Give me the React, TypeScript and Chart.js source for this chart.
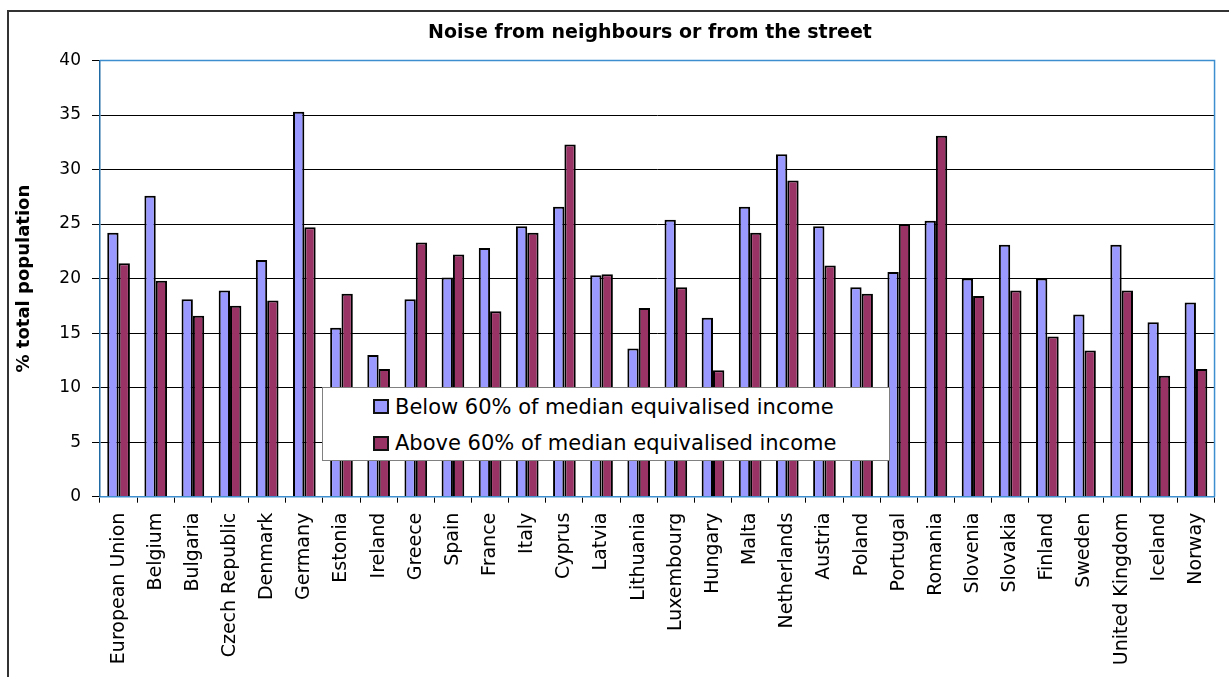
import React, { useEffect, useRef } from "react";
import { Chart, registerables } from "chart.js";

Chart.register(...registerables);

const chartTitle = "Noise from neighbours or from the street";
const yAxisTitle = "% total population";

const categories = [
  "European Union", "Belgium", "Bulgaria", "Czech Republic", "Denmark", "Germany",
  "Estonia", "Ireland", "Greece", "Spain", "France", "Italy", "Cyprus", "Latvia",
  "Lithuania", "Luxembourg", "Hungary", "Malta", "Netherlands", "Austria", "Poland",
  "Portugal", "Romania", "Slovenia", "Slovakia", "Finland", "Sweden",
  "United Kingdom", "Iceland", "Norway",
];

const seriesLabels = [
  "Below 60% of median equivalised income",
  "Above 60% of median equivalised income",
];

const belowValues = [
  24.2, 27.6, 18.1, 18.9, 21.7, 35.3, 15.5, 13.0, 18.1, 20.1, 22.8, 24.8, 26.6, 20.3,
  13.6, 25.4, 16.4, 26.6, 31.4, 24.8, 19.2, 20.6, 25.3, 20.0, 23.1, 20.0, 16.7, 23.1,
  16.0, 17.8,
];

const aboveValues = [
  21.4, 19.8, 16.6, 17.5, 18.0, 24.7, 18.6, 11.7, 23.3, 22.2, 17.0, 24.2, 32.3, 20.4,
  17.3, 19.2, 11.6, 24.2, 29.0, 21.2, 18.6, 25.0, 33.1, 18.4, 18.9, 14.7, 13.4, 18.9,
  11.1, 11.7,
];

const seriesColors = ["#9999FF", "#993366"];

const yMin = 0;
const yMax = 40;
const yStep = 5;

const FONT = "'DejaVu Sans', sans-serif";
const PLOT_BORDER = "#3d8ecf";

export default function App() {
  const canvasRef = useRef<HTMLCanvasElement | null>(null);

  useEffect(() => {
    if (!canvasRef.current) return;
    Chart.defaults.font.family = FONT;

    const titlePlugin = {
      id: "xlTitle",
      afterDraw(chart: any) {
        const ctx = chart.ctx;
        ctx.save();
        ctx.font = `bold 19px ${FONT}`;
        ctx.fillStyle = "#000";
        ctx.textAlign = "center";
        ctx.textBaseline = "alphabetic";
        ctx.fillText(chartTitle, 650, 38.3);
        ctx.restore();
      },
    };

    const plotBorderPlugin = {
      id: "plotBorder",
      beforeDatasetsDraw(chart: any) {
        const { left, top, right, bottom } = chart.chartArea;
        const ctx = chart.ctx;
        ctx.save();
        ctx.strokeStyle = PLOT_BORDER;
        ctx.lineWidth = 1.5;
        ctx.beginPath();
        ctx.moveTo(left, top);
        ctx.lineTo(right, top);
        ctx.lineTo(right, bottom);
        ctx.stroke();
        ctx.restore();
      },
    };

    const chart = new Chart(canvasRef.current, {
      type: "bar",
      data: {
        labels: categories,
        datasets: [
          {
            label: seriesLabels[0],
            data: belowValues,
            backgroundColor: seriesColors[0],
            borderColor: "#000",
            borderWidth: 2,
            categoryPercentage: 0.61,
            barPercentage: 1.0,
          },
          {
            label: seriesLabels[1],
            data: aboveValues,
            backgroundColor: seriesColors[1],
            borderColor: "#000",
            borderWidth: 2,
            categoryPercentage: 0.61,
            barPercentage: 1.0,
          },
        ],
      },
      options: {
        animation: false,
        responsive: false,
        maintainAspectRatio: false,
        layout: { padding: { top: 60.5, right: 14, bottom: 0, left: 0 } },
        plugins: {
          legend: { display: false },
          title: { display: false },
          tooltip: { enabled: false },
        },
        scales: {
          x: {
            grid: {
              display: true,
              drawOnChartArea: false,
              drawTicks: true,
              tickLength: 6,
              tickColor: "#000",
              offset: true,
            },
            border: { color: PLOT_BORDER, width: 1.5 },
            ticks: {
              autoSkip: false,
              maxRotation: 90,
              minRotation: 90,
              padding: 10,
              color: "#000",
              font: { size: 19, family: FONT },
            },
            afterFit: (s: any) => {
              s.height = 180.3;
            },
          },
          y: {
            min: yMin,
            max: yMax,
            ticks: {
              stepSize: yStep,
              padding: 11,
              color: "#000",
              font: { size: 17, family: FONT },
            },
            grid: {
              color: (c: any) =>
                c.tick && (c.tick.value === yMax || c.tick.value === yMin) ? PLOT_BORDER : "#000",
              lineWidth: 1,
              tickLength: 8,
              tickColor: "#000",
            },
            border: { color: "#1f6aa5", width: 1.5 },
            title: {
              display: true,
              text: yAxisTitle,
              color: "#000",
              font: { size: 18, weight: "bold", family: FONT },
              padding: { top: 14, bottom: 0 },
            },
            afterFit: (s: any) => {
              s.width = 100;
            },
          },
        },
      },
      plugins: [titlePlugin, plotBorderPlugin],
    } as any);

    return () => chart.destroy();
  }, []);

  const legendRowTops = [8.4, 45.1];
  const swatchTops = [11, 47.7];

  return (
    <div
      style={{
        position: "fixed",
        left: 0,
        top: 0,
        width: 1229,
        height: 677,
        overflow: "hidden",
        background: "#fff",
      }}
    >
      <div
        style={{
          position: "absolute",
          left: 7,
          top: 10,
          width: 1400,
          height: 900,
          border: "2px solid #333",
          boxSizing: "border-box",
        }}
      />
      <canvas
        ref={canvasRef}
        width={1229}
        height={677}
        style={{ position: "absolute", left: 0, top: 0, width: 1229, height: 677, display: "block" }}
      />
      <div
        style={{
          position: "absolute",
          left: 321.7,
          top: 387.3,
          width: 568,
          height: 73.4,
          background: "#fff",
          border: "1px solid #808080",
          boxSizing: "border-box",
          fontFamily: FONT,
        }}
      >
        {seriesLabels.map((lab, i) => (
          <React.Fragment key={lab}>
            <div
              style={{
                position: "absolute",
                left: 50.5,
                top: swatchTops[i],
                width: 16,
                height: 15,
                boxSizing: "border-box",
                border: "2px solid #111",
                background: seriesColors[i],
              }}
            />
            <div
              style={{
                position: "absolute",
                left: 72.3,
                top: legendRowTops[i],
                fontSize: 21,
                lineHeight: "21px",
                whiteSpace: "nowrap",
                color: "#000",
              }}
            >
              {lab}
            </div>
          </React.Fragment>
        ))}
      </div>
    </div>
  );
}
